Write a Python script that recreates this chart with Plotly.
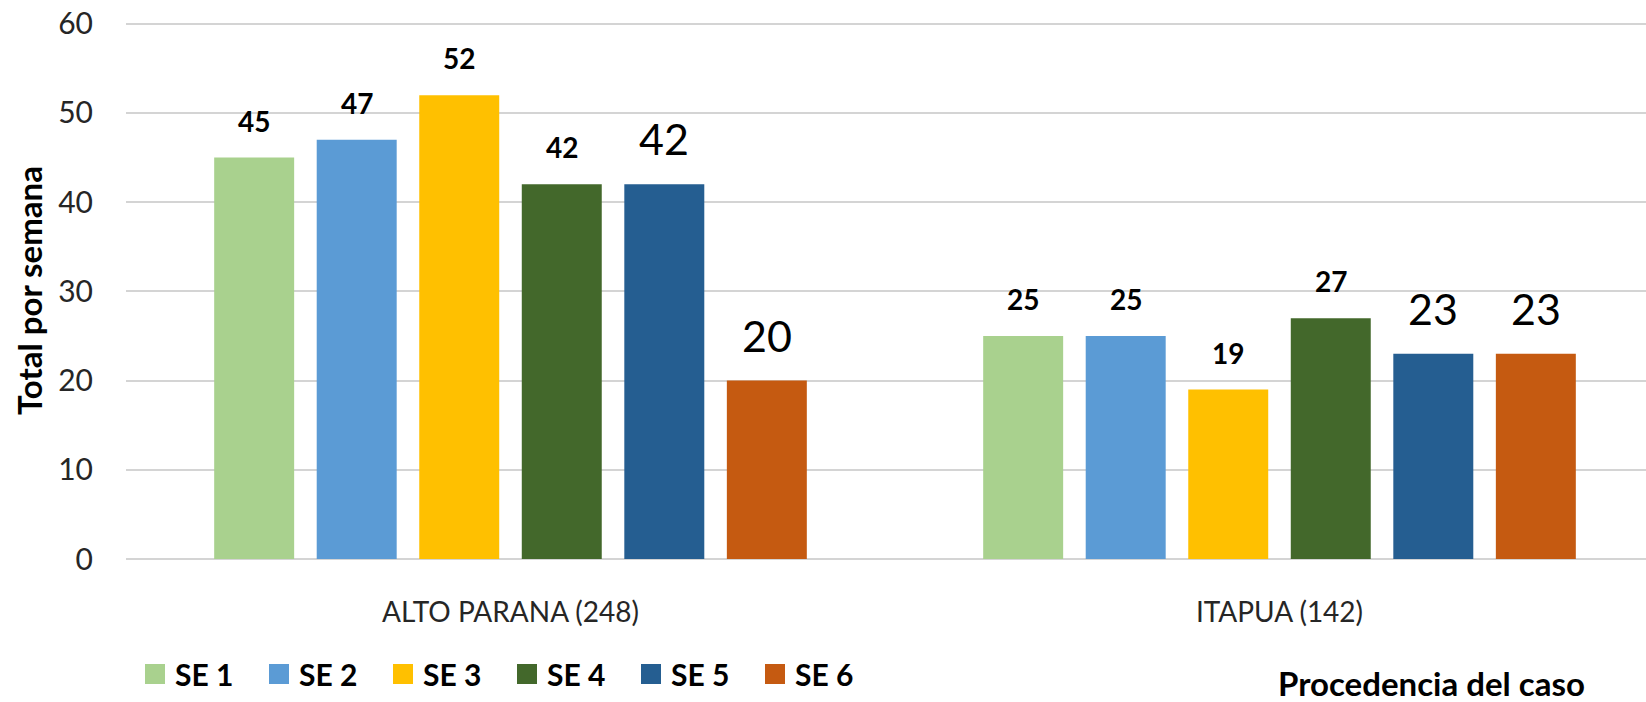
import plotly.graph_objects as go

categories = ["ALTO PARANA (248)", "ITAPUA (142)"]
series_names = ["SE 1", "SE 2", "SE 3", "SE 4", "SE 5", "SE 6"]
se1 = [45, 25]
se2 = [47, 25]
se3 = [52, 19]
se4 = [42, 27]
se5 = [42, 23]
se6 = [20, 23]
series_values = [se1, se2, se3, se4, se5, se6]
colors = ["#A9D18E", "#5B9BD5", "#FFC000", "#43682B", "#255E91", "#C55A11"]
y_ticks = [0, 10, 20, 30, 40, 50, 60]

FONT = "Lato, 'Open Sans', sans-serif"
W, H = 1646, 702
ML, MR, MT, MB = 126, 0, 22, 143
Y_TOP = 60.2
bargap = 0.2
n = len(series_names)
cat_idx = list(range(len(categories)))

fig = go.Figure()
for name, vals, col in zip(series_names, series_values, colors):
    fig.add_trace(go.Bar(
        name=name, x=cat_idx, y=vals, showlegend=False,
        marker=dict(color=col, line=dict(width=0)),
    ))
# legend entries (larger square swatches)
for name, col in zip(series_names, colors):
    fig.add_trace(go.Scatter(
        name=name, x=[None], y=[None], mode="markers", showlegend=True,
        marker=dict(symbol="square", size=16, color=col, line=dict(color=col, width=4)),
    ))

# data labels
slot = (1 - bargap) / n
for i, vals in enumerate(series_values):
    big = i >= 4
    for j, v in enumerate(vals):
        fig.add_annotation(
            x=j + (i - (n - 1) / 2) * slot, y=v, xref="x", yref="y",
            text=str(v) if big else f"<b>{v}</b>",
            showarrow=False, yanchor="bottom", yshift=18,
            font=dict(family=FONT, size=(43 if big else 28), color="#000000"),
        )

plot_w = W - ML - MR
plot_h = H - MT - MB
cat_px = 769.0
fig.add_annotation(
    text="<b>Total por semana</b>", textangle=-90, xref="paper", yref="paper",
    x=(29 - ML) / plot_w, y=(559 - 291) / plot_h, xanchor="center", yanchor="middle",
    showarrow=False, font=dict(family=FONT, size=33, color="#000000"),
)
fig.add_annotation(
    text="<b>Procedencia del caso</b>", xref="paper", yref="paper",
    x=(1431 - ML) / plot_w, y=(559 - 683) / plot_h, xanchor="center", yanchor="middle",
    showarrow=False, font=dict(family=FONT, size=33, color="#000000"),
)

fig.update_layout(
    width=W, height=H,
    margin=dict(l=ML, r=MR, t=MT, b=MB, autoexpand=False),
    paper_bgcolor="white", plot_bgcolor="white",
    barmode="group", bargap=bargap, bargroupgap=0.22,
    showlegend=True,
    legend=dict(
        orientation="h", x=(135 - ML) / plot_w, y=(559 - 674) / plot_h,
        xanchor="left", yanchor="middle",
        font=dict(family=FONT, size=30, color="#000000", weight="bold"),
        entrywidth=79, entrywidthmode="pixels", itemwidth=30,
        traceorder="normal", itemsizing="trace",
    ),
    xaxis=dict(
        range=[-0.5, -0.5 + plot_w / cat_px],
        tickmode="array", tickvals=cat_idx, ticktext=categories,
        showgrid=False, zeroline=False, showline=False,
        ticks="outside", ticklen=28, tickcolor="rgba(0,0,0,0)",
        tickfont=dict(family=FONT, size=28, color="#262626"),
    ),
    yaxis=dict(
        range=[0, Y_TOP], tickmode="array", tickvals=y_ticks,
        showgrid=True, gridcolor="#d4d4d4", gridwidth=2,
        zeroline=True, zerolinecolor="#d4d4d4", zerolinewidth=2,
        showline=False, ticklabeloverflow="allow",
        ticks="outside", ticklen=26, tickcolor="rgba(0,0,0,0)",
        tickfont=dict(family=FONT, size=30, color="#262626"),
    ),
)

fig.write_html(
    "out.html",
    config={"displayModeBar": False},
    post_script="document.body.style.margin='0px';",
)
